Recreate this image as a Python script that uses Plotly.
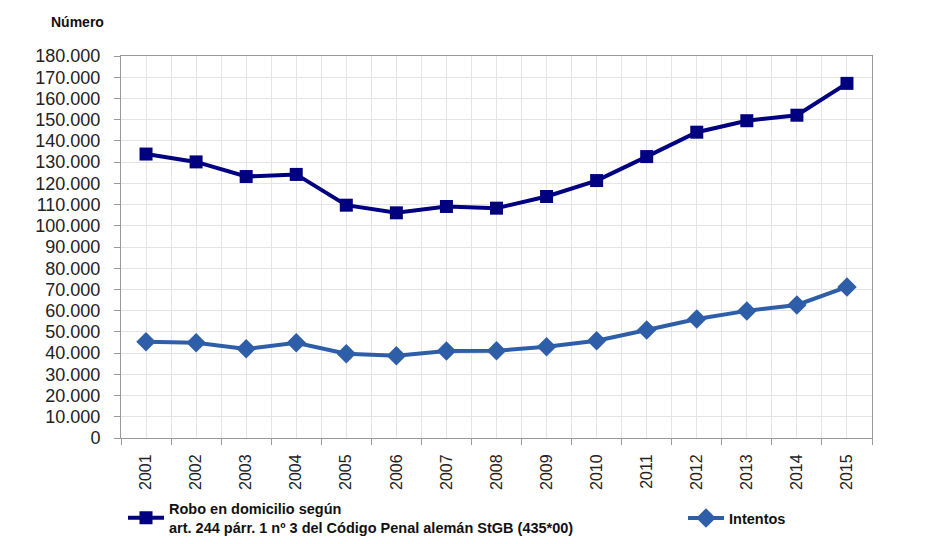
import plotly.graph_objects as go

years = [2001, 2002, 2003, 2004, 2005, 2006, 2007, 2008, 2009, 2010, 2011, 2012, 2013, 2014, 2015]
robo = [133800, 130100, 123200, 124200, 109700, 106100, 109100, 108300, 113800, 121300, 132600, 144100, 149500, 152100, 167100]
intentos = [45300, 44900, 42000, 44900, 39700, 38800, 41000, 41100, 43000, 45800, 50900, 56100, 59900, 62700, 71200]

name_robo = "Robo en domicilio según<br>art. 244 párr. 1 nº 3 del Código Penal alemán StGB (435*00)"
name_int = "Intentos"

# page body has an 8px margin; layout coordinates are offset accordingly
W, H = 924, 536
L, R, T, B = 113, 60, 48, 106
PW, PH = W - L - R, H - T - B

fig = go.Figure()
fig.add_trace(go.Scatter(
    x=years, y=robo, name=name_robo, mode="lines+markers",
    line=dict(color="#000080", width=4),
    marker=dict(symbol="square", size=13, color="#000080"),
    legend="legend",
))
fig.add_trace(go.Scatter(
    x=years, y=intentos, name=name_int, mode="lines+markers",
    line=dict(color="#2f5ea8", width=4),
    marker=dict(symbol="diamond", size=15, color="#2f5ea8"),
    legend="legend2",
))

legend_font = dict(size=14.5, family="Liberation Sans Narrow, Liberation Sans, Arial",
                   color="#111111", weight="bold")
fig.update_layout(
    width=W, height=H,
    margin=dict(l=L, r=R, t=T, b=B, autoexpand=False),
    paper_bgcolor="white", plot_bgcolor="white",
    separators=",.",
    font=dict(family="Liberation Sans, Arial, sans-serif", color="#222222"),
    showlegend=True,
    legend=dict(
        orientation="h", x=(115 - L) / PW, xanchor="left",
        y=-(510 - (T + PH)) / PH, yanchor="middle",
        font=legend_font, itemwidth=36, bgcolor="rgba(0,0,0,0)",
    ),
    legend2=dict(
        orientation="h", x=(675 - L) / PW, xanchor="left",
        y=-(510 - (T + PH)) / PH, yanchor="middle",
        font=legend_font, itemwidth=36, bgcolor="rgba(0,0,0,0)",
    ),
    annotations=[dict(
        text="<b>Número</b>", xref="paper", yref="paper",
        x=(69 - L) / PW, y=1 + (T - 14) / PH,
        xanchor="center", yanchor="middle",
        showarrow=False, font=dict(size=14, color="#111111"),
    )],
)

fig.update_xaxes(
    range=[2000.5, 2015.5], tickmode="linear", tick0=2001, dtick=1,
    tickangle=-90, tickfont=dict(size=16, color="#222222"),
    showgrid=True, gridcolor="#e4e4e4", gridwidth=1,
    ticks="", ticklabelstandoff=9, showline=True, linecolor="#999999", linewidth=1,
    mirror=True, zeroline=False, automargin=False,
    minor=dict(tickmode="linear", tick0=2000.5, dtick=1, ticks="outside", ticklen=6,
               tickcolor="#999999", showgrid=True, gridcolor="#e4e4e4", gridwidth=1),
)
fig.update_yaxes(
    range=[0, 180000], tickmode="linear", tick0=0, dtick=10000, tickformat=",d",
    tickfont=dict(size=18, color="#222222"),
    showgrid=True, gridcolor="#e4e4e4", gridwidth=1,
    ticks="outside", ticklen=6, tickcolor="#999999", ticklabelstandoff=10,
    showline=True, linecolor="#999999", linewidth=1, mirror=True,
    zeroline=False, automargin=False,
)

fig.write_html("out.html")
